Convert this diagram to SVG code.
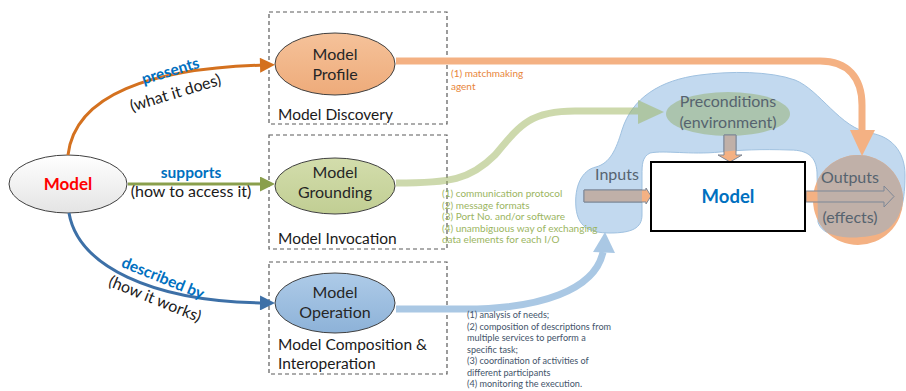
<svg xmlns="http://www.w3.org/2000/svg" width="906" height="391" viewBox="0 0 906 391">
<style>
  text{font-family:Lato,"Liberation Sans",sans-serif}
  .box{fill:none;stroke:#5a5a5a;stroke-width:1.2;stroke-dasharray:4 3}
  .node{stroke:#404040;stroke-width:1}
  .nt{font-size:16px;fill:#262626;text-anchor:middle}
  .bl{font-size:15.5px;fill:#1a1a1a}
  .lbl{font-size:15.5px;font-weight:bold;fill:#0070c0;text-anchor:middle}
  .sub{font-size:16px;fill:#1a1a1a;text-anchor:middle}
  .rt{font-size:16px;fill:#56636f;text-anchor:middle}
  .ann-o{font-size:10px;fill:#e8853a}
  .ann-g{font-size:10px;fill:#9bb55f}
  .ann-b{font-size:9.1px;fill:#44546a}
  .blk{stroke:#7d8796;stroke-width:1}
</style>
<defs>
  <linearGradient id="gModel" x1="0" y1="0" x2="0" y2="1"><stop offset="0" stop-color="#ffffff"/><stop offset="1" stop-color="#e4e4e4"/></linearGradient>
  <linearGradient id="gProf" x1="0" y1="0" x2="0" y2="1"><stop offset="0" stop-color="#f5c29a"/><stop offset="1" stop-color="#eeab7a"/></linearGradient>
  <linearGradient id="gGround" x1="0" y1="0" x2="0" y2="1"><stop offset="0" stop-color="#d3ddac"/><stop offset="1" stop-color="#c1ce93"/></linearGradient>
  <linearGradient id="gOper" x1="0" y1="0" x2="0" y2="1"><stop offset="0" stop-color="#aecbe8"/><stop offset="1" stop-color="#8db2d8"/></linearGradient>
  <path id="blobPath" d="M576,208 C574,186 582,170 596,167 C610,163 616,150 622,130 C632,98 660,80 700,75 C730,71 770,71 795,80 C820,90 840,128 870,133 C890,136 905,150 905,175 C905,205 900,232 870,236 C845,240 822,236 818,222 L817,172 C816,157 808,150 790,150 C760,149 740,150 720,152 C690,155 665,150 650,153 C642,157 642,165 642,175 L642,215 C642,228 632,233 610,233 C588,233 578,226 576,208 Z"/>
  <clipPath id="inBlob"><use href="#blobPath"/></clipPath>
  <clipPath id="outClip"><rect x="800" y="180" width="16" height="30"/></clipPath>
  <marker id="mO" viewBox="0 0 10 10" refX="4" refY="5" markerWidth="16" markerHeight="15" markerUnits="userSpaceOnUse" orient="auto"><path d="M0,0 L10,5 L0,10 Z" fill="#d4711f"/></marker>
  <marker id="mG" viewBox="0 0 10 10" refX="4" refY="5" markerWidth="16" markerHeight="15" markerUnits="userSpaceOnUse" orient="auto"><path d="M0,0 L10,5 L0,10 Z" fill="#8a9f4c"/></marker>
  <marker id="mB" viewBox="0 0 10 10" refX="4" refY="5" markerWidth="16" markerHeight="15" markerUnits="userSpaceOnUse" orient="auto"><path d="M0,0 L10,5 L0,10 Z" fill="#3d70a7"/></marker>
</defs>
<rect width="906" height="391" fill="#ffffff"/>

<g id="box-discovery"><rect class="box" x="269" y="12" width="178" height="112"/><text class="bl" x="278" y="120">Model Discovery</text></g>
<g id="box-invocation"><rect class="box" x="269" y="135" width="178" height="114"/><text class="bl" x="278" y="244">Model Invocation</text></g>
<g id="box-composition"><rect class="box" x="269" y="262" width="178" height="112"/><text class="bl" x="278" y="350">Model Composition &amp;</text><text class="bl" x="278" y="369">Interoperation</text></g>

<g id="model-left"><ellipse class="node" cx="68" cy="184" rx="59" ry="29" fill="url(#gModel)"/><text x="68" y="190" text-anchor="middle" font-size="17" font-weight="bold" fill="#ff0000">Model</text></g>
<g id="model-profile"><ellipse class="node" cx="335" cy="64" rx="60" ry="31" fill="url(#gProf)"/><text class="nt" x="335" y="60">Model</text><text class="nt" x="335" y="80">Profile</text></g>
<g id="model-grounding"><ellipse class="node" cx="335" cy="186" rx="60" ry="28" fill="url(#gGround)"/><text class="nt" x="335" y="178">Model</text><text class="nt" x="335" y="198">Grounding</text></g>
<g id="model-operation"><ellipse class="node" cx="335" cy="303" rx="60" ry="30" fill="url(#gOper)"/><text class="nt" x="335" y="298">Model</text><text class="nt" x="335" y="318">Operation</text></g>

<g id="environment"><use href="#blobPath" fill="#c2d9ef" stroke="#9fc1e0" stroke-width="1"/></g>

<g id="preconditions"><ellipse cx="728" cy="114" rx="62" ry="22" fill="#abc4ae"/>
  <path d="M724,135 L736,135 L736,155 L742,155 L730,162 L718,155 L724,155 Z" class="blk" fill="#f4b183"/>
  <path d="M724,135 L736,135 L736,155 L742,155 L730,162 L718,155 L724,155 Z" class="blk" fill="#c0b0a8" clip-path="url(#inBlob)"/>
  <text class="rt" x="728" y="107">Preconditions</text><text class="rt" x="728" y="128">(environment)</text></g>
<g id="inputs">
  <path d="M584,190 L646,190 L646,188 L651,196 L646,204 L646,202 L584,202 Z" class="blk" fill="#f4b183"/>
  <path d="M584,190 L646,190 L646,188 L651,196 L646,204 L646,202 L584,202 Z" class="blk" fill="#c0b0a8" clip-path="url(#inBlob)"/>
  <text class="rt" x="617" y="180">Inputs</text></g>
<g id="outputs">
  <circle cx="858" cy="200" r="45" fill="#f4b183"/>
  <circle cx="858" cy="200" r="45" fill="#c0b0a8" clip-path="url(#inBlob)"/>
  <path d="M806,191 L884,191 L884,186 L894,196.5 L884,207 L884,202 L806,202 Z" fill="#f4b183" clip-path="url(#outClip)"/>
  <path d="M806,191 L884,191 L884,186 L894,196.5 L884,207 L884,202 L806,202 Z" fill="none" class="blk"/>
  <text class="rt" x="850" y="183">Outputs</text><text class="rt" x="850" y="223">(effects)</text></g>

<g id="model-box"><rect x="651" y="162" width="154" height="69" fill="#ffffff" stroke="#000000" stroke-width="2"/><text x="728" y="203" text-anchor="middle" font-size="18.5" font-weight="bold" fill="#0070c0">Model</text></g>

<g id="connectors">
  <path d="M68,155 C75,95 150,68 266,65" fill="none" stroke="#d4711f" stroke-width="3" marker-end="url(#mO)"/>
  <path d="M128,184 L266,184" fill="none" stroke="#8a9f4c" stroke-width="3" marker-end="url(#mG)"/>
  <path d="M69,213 C78,265 150,302 266,303" fill="none" stroke="#3d70a7" stroke-width="3" marker-end="url(#mB)"/>
  <g opacity="0.5">
    <path d="M396,183 C450,183 470,180 495,155 C520,125 530,111 575,111 L640,111" fill="none" stroke="#9cb45c" stroke-width="7"/>
    <path d="M638,100 L664,112 L638,124 Z" fill="#9cb45c"/>
  </g>
  <path d="M396,309 L465,309 C540,309 595,290 603,252" fill="none" stroke="#aac8e4" stroke-width="7"/>
  <path d="M593,252 L615,253 L605,232 Z" fill="#aac8e4"/>
  <path d="M396,61 L820,61 C848,61 862,78 862,105 L862,132" fill="none" stroke="#f4b183" stroke-width="7"/>
  <path d="M850,130 L875,130 L862,156 Z" fill="#f4b183"/>
</g>

<g id="edge-labels">
  <text class="lbl" transform="translate(172,76) rotate(-17)">presents</text>
  <text class="sub" transform="translate(177,98) rotate(-17)">(what it does)</text>
  <text class="lbl" x="191" y="178">supports</text>
  <text class="sub" x="191" y="197">(how to access it)</text>
  <text class="lbl" transform="translate(161,283) rotate(22)">described by</text>
  <text class="sub" transform="translate(153,304) rotate(22)">(how it works)</text>
</g>

<g id="annotations">
  <text class="ann-o" x="451" y="77">(1) matchmaking</text>
  <text class="ann-o" x="451" y="90">agent</text>
  <text class="ann-g" x="442" y="197">(1) communication protocol</text>
  <text class="ann-g" x="442" y="208.5">(2) message formats</text>
  <text class="ann-g" x="442" y="220">(3) Port No. and/or software</text>
  <text class="ann-g" x="442" y="231.5">(4) unambiguous way of exchanging</text>
  <text class="ann-g" x="442" y="243">data elements for each I/O</text>
  <text class="ann-b" x="467" y="318">(1) analysis of needs;</text>
  <text class="ann-b" x="467" y="329.5">(2) composition of descriptions from</text>
  <text class="ann-b" x="467" y="341">multiple services to perform a</text>
  <text class="ann-b" x="467" y="352.5">specific task;</text>
  <text class="ann-b" x="467" y="364">(3) coordination of activities of</text>
  <text class="ann-b" x="467" y="375.5">different participants</text>
  <text class="ann-b" x="467" y="387">(4) monitoring  the execution.</text>
</g>
</svg>
